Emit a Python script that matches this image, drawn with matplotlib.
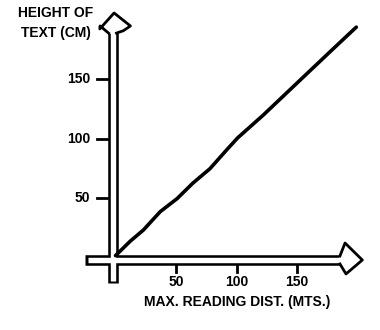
import matplotlib.pyplot as plt

# reading distance (m) vs. text height (cm)
dist = [0, 12, 23, 37, 51, 64, 78, 92, 101, 122, 150, 177, 199]
height = [2, 14, 23.5, 39, 50, 63, 75, 91, 101, 120, 147, 173, 194]

x_ticks = [50, 100, 150]
y_ticks = [50, 100, 150]
y_title = "HEIGHT OF\nTEXT (CM)"
x_title = "MAX. READING DIST. (MTS.)"

font = dict(family="Liberation Sans", weight="bold", fontsize=10, color="black")

fig = plt.figure(figsize=(3.8, 3.3), dpi=100)
ax = fig.add_axes([0, 0, 1, 1])
ax.set_xlim(-95.5, 218.6)
ax.set_ylim(-60.5, 216.8)
ax.axis("off")

# hollow double-line axes: thick black stroke with a white core
ax_x, ax_y = -2.5, -1.7
yshaft = ([ax_x, ax_x], [-21, 191])
xshaft = ([-25, 186], [ax_y, ax_y])
for xs, ys in (yshaft, xshaft):
    ax.plot(xs, ys, color="black", lw=7.6, solid_capstyle="butt", zorder=2)
ax.plot([ax_x, ax_x], [-19.0, 191], color="white", lw=3.9,
        solid_capstyle="butt", zorder=3)
ax.plot([-23.0, 186], [ax_y, ax_y], color="white", lw=3.9,
        solid_capstyle="butt", zorder=3)

# arrow heads
y_head = ([-5.8, -12.8, -13.0, -1.2, 12.3, 6.5, 0.8],
          [189.0, 195.0, 192.5, 205.9, 195.0, 191.0, 189.0])
x_head = ([185.5, 189.7, 204.0, 190.5, 185.5],
          [1.7, 12.6, -1.7, -13.4, -5.0])
for hx, hy in (y_head, x_head):
    ax.fill(hx, hy, color="white", zorder=4)
    ax.plot(hx, hy, color="black", lw=2.0, solid_joinstyle="round", zorder=5)

# ticks and tick labels
for v in y_ticks:
    ax.plot([-15.3, -6.8], [v, v], color="black", lw=2.0, zorder=2)
    ax.text(-21, v, str(v), ha="right", va="center", **font)
for v in x_ticks:
    ax.plot([v, v], [-5.5, -11.8], color="black", lw=2.0, zorder=2)
    ax.text(v, -20.2, str(v), ha="center", va="center", **font)

ax.text(-49.2, 197.5, y_title, ha="center", va="center", linespacing=1.55, **font)
ax.text(100.4, -37, x_title, ha="center", va="center", **font)

ax.plot(dist, height, color="black", lw=2.6, solid_capstyle="round", zorder=6)

fig.savefig("out.png", dpi=100)
